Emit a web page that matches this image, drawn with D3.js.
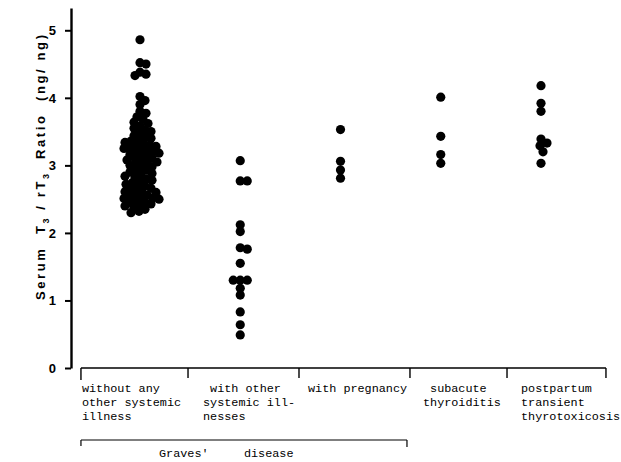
<!DOCTYPE html>
<html>
<head>
<meta charset="utf-8">
<script src="https://cdn.jsdelivr.net/npm/d3@7"></script>
<style>
  body { margin: 0; background: #fff; }
  svg { display: block; }
  .mono { font-family: "Liberation Mono", "DejaVu Sans Mono", monospace; font-size: 11.8px; white-space: pre; }
</style>
</head>
<body>
<script>
// groups (x categories), each has its own set of T3/rT3 ratios
var groups = ["without any other systemic illness", "with other systemic illnesses",
  "with pregnancy", "subacute thyroiditis", "postpartum transient thyrotoxicosis"];

var groupLines = [
  ["without any", "other systemic", "illness"],
  [" with other", "systemic ill-", "nesses"],
  ["with pregnancy"],
  [" subacute", "thyroiditis"],
  ["postpartum", "transient", "thyrotoxicosis"]
];

var gravesNoIllness = [4.86, 4.52, 4.50, 4.38, 4.35, 4.33, 4.02, 3.96, 3.90, 3.80, 3.77, 3.72,
  3.68, 3.64, 3.62, 3.58, 3.55,
  3.52, 3.50, 3.47, 3.44, 3.42,
  3.40, 3.38, 3.36, 3.34, 3.32, 3.30, 3.30,
  3.28, 3.26, 3.25, 3.24, 3.22, 3.21, 3.20,
  3.18, 3.16, 3.15, 3.13, 3.11, 3.10,
  3.08, 3.06, 3.05, 3.03, 3.01, 3.00,
  2.98, 2.96, 2.93, 2.91, 2.90,
  2.88, 2.86, 2.84, 2.82, 2.80,
  2.78, 2.76, 2.74, 2.72, 2.70,
  2.68, 2.66, 2.64, 2.62, 2.61, 2.60,
  2.58, 2.56, 2.55, 2.53, 2.52, 2.51, 2.50,
  2.48, 2.46, 2.45, 2.43, 2.41, 2.40,
  2.38, 2.35, 2.32, 2.30];
var gravesOtherIllness = [3.07, 2.77, 2.77, 2.12, 2.02, 1.78, 1.76, 1.55, 1.30, 1.30, 1.30,
  1.18, 1.08, 0.83, 0.64, 0.49];
var gravesPregnancy = [3.53, 3.06, 2.93, 2.81];
var subacute = [4.01, 3.43, 3.16, 3.03];
var postpartum = [4.18, 3.92, 3.80, 3.39, 3.33, 3.29, 3.20, 3.03];

var seriesValues = [gravesNoIllness, gravesOtherIllness, gravesPregnancy, subacute, postpartum];

var yTicks = [0, 1, 2, 3, 4, 5];

// bracket dividers, in column units (column i sits at i)
var dividers = [-0.589, 0.479, 1.586, 2.693, 3.661, 4.648];
var labelPad = [1, 15, 9, 13, 14];
// how close dots may sit before they are pushed sideways
var spread = [6.0, 6.6, 6.6, 6.6, 6.6];

var width = 621, height = 462;

var svg = d3.select("body").append("svg")
  .attr("width", width)
  .attr("height", height);

var yscale = d3.scaleLinear().domain([0, 5.33]).range([368, 8]);
var xscale = d3.scaleLinear().domain([0, 4]).range([140, 541]);

// y axis
var yaxis = d3.axisLeft(yscale)
  .tickValues(yTicks)
  .tickSize(6)
  .tickSizeOuter(0)
  .tickFormat(d3.format("d"));
var gy = svg.append("g")
  .attr("transform", "translate(71,0)")
  .call(yaxis);
gy.select(".domain").attr("stroke-width", 2.4);
gy.selectAll(".tick line").attr("stroke-width", 2);
gy.selectAll(".tick text")
  .attr("x", -15)
  .style("font-family", "'Liberation Sans', Arial, sans-serif")
  .style("font-weight", "bold")
  .style("font-size", "13px");

// y label
var ylab = svg.append("text")
  .attr("transform", "translate(45,300) rotate(-90)")
  .attr("textLength", 265)
  .attr("lengthAdjust", "spacing")
  .style("font-family", "'Liberation Sans', Arial, sans-serif")
  .style("font-weight", "bold")
  .style("font-size", "13px")
  .style("white-space", "pre");
ylab.append("tspan").text("Serum  T");
ylab.append("tspan").attr("dy", 4).style("font-size", "9px").text("3");
ylab.append("tspan").attr("dy", -4).text(" / rT");
ylab.append("tspan").attr("dy", 4).style("font-size", "9px").text("3");
ylab.append("tspan").attr("dy", -4).text("  Ratio  (ng/ ng)");

// simple beeswarm: slide each dot sideways until it clears placed ones
function swarm(values, col, minDist) {
  var placed = [];
  var sorted = values.slice().sort(function (a, b) { return b - a; });
  sorted.forEach(function (v) {
    var cy = yscale(v);
    var off = 0, k = 0;
    while (true) {
      var cx = xscale(col) + off;
      var hit = placed.some(function (p) {
        var dx = p.cx - cx, dy = p.cy - cy;
        return dx * dx + dy * dy < minDist * minDist;
      });
      if (!hit) break;
      k++;
      off = (k % 2 ? 1 : -1) * Math.ceil(k / 2);
    }
    placed.push({ cx: xscale(col) + off, cy: cy, v: v });
  });
  return placed;
}

var allDots = [];
seriesValues.forEach(function (vals, i) {
  allDots = allDots.concat(swarm(vals, i, spread[i]));
});

svg.selectAll("circle.dot")
  .data(allDots)
  .enter()
  .append("circle")
  .attr("class", "dot")
  .attr("cx", function (d) { return d.cx; })
  .attr("cy", function (d) { return d.cy; })
  .attr("r", 4.6)
  .attr("fill", "#000");

// category bracket
var by = 368;
var bracket = svg.append("g").attr("stroke", "#000").attr("stroke-width", 1.4).attr("fill", "none");
bracket.append("line")
  .attr("x1", xscale(dividers[0])).attr("x2", xscale(dividers[dividers.length - 1]))
  .attr("y1", by).attr("y2", by);
bracket.selectAll("line.div")
  .data(dividers)
  .enter()
  .append("line")
  .attr("class", "div")
  .attr("x1", function (d) { return xscale(d); })
  .attr("x2", function (d) { return xscale(d); })
  .attr("y1", by)
  .attr("y2", function (d, i) { return i == 0 ? by + 12 : by + 10; });

// category labels
groupLines.forEach(function (lines, i) {
  var t = svg.append("text")
    .attr("class", "mono")
    .attr("fill", "#000");
  lines.forEach(function (line, j) {
    t.append("tspan")
      .attr("x", xscale(dividers[i]) + labelPad[i])
      .attr("y", 392 + j * 14)
      .text(line);
  });
});

// Graves' disease bracket over the first three groups
var gyb = 440;
var gx0 = xscale(dividers[0]), gx1 = xscale(dividers[3]) - 3;
var gb = svg.append("g").attr("stroke", "#000").attr("stroke-width", 1.2).attr("fill", "none");
gb.append("line").attr("x1", gx0).attr("x2", gx1).attr("y1", gyb).attr("y2", gyb);
gb.append("line").attr("x1", gx0).attr("x2", gx0).attr("y1", gyb).attr("y2", gyb + 6);
gb.append("line").attr("x1", gx1).attr("x2", gx1).attr("y1", gyb).attr("y2", gyb + 7);
svg.append("text")
  .attr("class", "mono")
  .attr("x", 159)
  .attr("y", 457)
  .text("Graves'     disease");
</script>
</body>
</html>
